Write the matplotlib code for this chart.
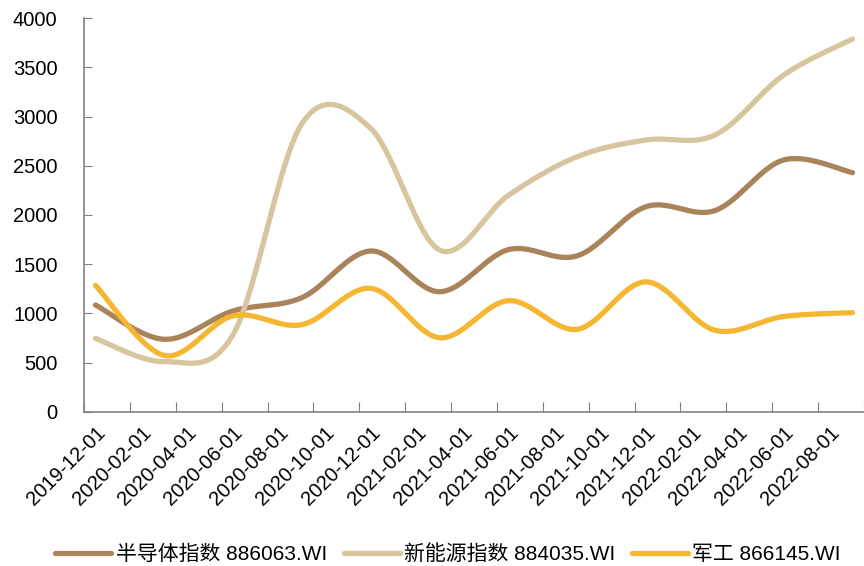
import numpy as np
import matplotlib.pyplot as plt

plt.rcParams['font.family'] = ['Liberation Sans', 'Noto Sans CJK SC', 'DejaVu Sans']

# quarterly index levels
dates = ['2019-12-01', '2020-03-01', '2020-06-01', '2020-09-01', '2020-12-01', '2021-03-01',
         '2021-06-01', '2021-09-01', '2021-12-01', '2022-03-01', '2022-06-01', '2022-09-01']
semi = [1085, 736, 1025, 1160, 1634, 1220, 1648, 1585, 2085, 2045, 2560, 2430]
new_energy = [745, 509, 785, 2930, 2880, 1644, 2200, 2593, 2763, 2813, 3423, 3789]
military = [1285, 572, 975, 885, 1254, 752, 1129, 838, 1320, 828, 968, 1007]

series_names = ['半导体指数 886063.WI', '新能源指数 884035.WI', '军工 866145.WI']
colors = ['#A9845A', '#D6C59D', '#F5B732']

# monthly axis labels, every 2 months
tick_labels = ['2019-12-01', '2020-02-01', '2020-04-01', '2020-06-01', '2020-08-01', '2020-10-01',
               '2020-12-01', '2021-02-01', '2021-04-01', '2021-06-01', '2021-08-01', '2021-10-01',
               '2021-12-01', '2022-02-01', '2022-04-01', '2022-06-01', '2022-08-01']


def month_index(d):
    y, m = int(d[:4]), int(d[5:7])
    return (y - 2019) * 12 + m - 12


def smooth(xs, ys, n=40):
    # bezier smoothing through every point (catmull-rom style)
    px = [xs[0]] + list(xs) + [xs[-1]]
    py = [ys[0]] + list(ys) + [ys[-1]]
    outx, outy = [], []
    t = np.linspace(0, 1, n)
    for i in range(1, len(px) - 2):
        x0, y0 = px[i], py[i]
        x3, y3 = px[i + 1], py[i + 1]
        x1, y1 = x0 + (px[i + 1] - px[i - 1]) / 6, y0 + (py[i + 1] - py[i - 1]) / 6
        x2, y2 = x3 - (px[i + 2] - px[i]) / 6, y3 - (py[i + 2] - py[i]) / 6
        bx = (1 - t)**3 * x0 + 3 * (1 - t)**2 * t * x1 + 3 * (1 - t) * t**2 * x2 + t**3 * x3
        by = (1 - t)**3 * y0 + 3 * (1 - t)**2 * t * y1 + 3 * (1 - t) * t**2 * y2 + t**3 * y3
        outx.extend(bx)
        outy.extend(by)
    return outx, outy


x = [month_index(d) for d in dates]

fig = plt.figure(figsize=(8.64, 5.66), dpi=100)
ax = fig.add_axes([84 / 864, 1 - 411.7 / 566, 780 / 864, 393.4 / 566])

for vals, name, c in zip([semi, new_energy, military], series_names, colors):
    sx, sy = smooth(x, vals)
    ax.plot(sx, sy, color=c, lw=3.8, label=name, solid_capstyle='round')

ax.set_xlim(-0.5, 33.5)
ax.set_ylim(0, 4000)
ax.set_yticks(range(0, 4001, 500))

ax.set_xticks(np.arange(-0.5, 33.6, 2))
ax.set_xticklabels([])
ax.set_xticks([month_index(d) for d in tick_labels], minor=True)
ax.set_xticklabels(tick_labels, minor=True, rotation=45, ha='right', rotation_mode='anchor')
ax.tick_params(axis='x', which='minor', length=0, pad=8, labelsize=14.5)
ax.tick_params(axis='x', which='major', direction='in', length=7, color='#808080')
ax.tick_params(axis='y', direction='in', length=6, color='#808080', pad=19, labelsize=14.5)

for s in ['top', 'right']:
    ax.spines[s].set_visible(False)
for s in ['left', 'bottom']:
    ax.spines[s].set_color('#808080')
    ax.spines[s].set_linewidth(1.2)

fig.legend(loc='center', bbox_to_anchor=(448 / 864, 12 / 566), ncol=3, frameon=False,
           fontsize=15, handlelength=2.7, columnspacing=0.8, handletextpad=0.2)

plt.savefig('out.png', dpi=100)
